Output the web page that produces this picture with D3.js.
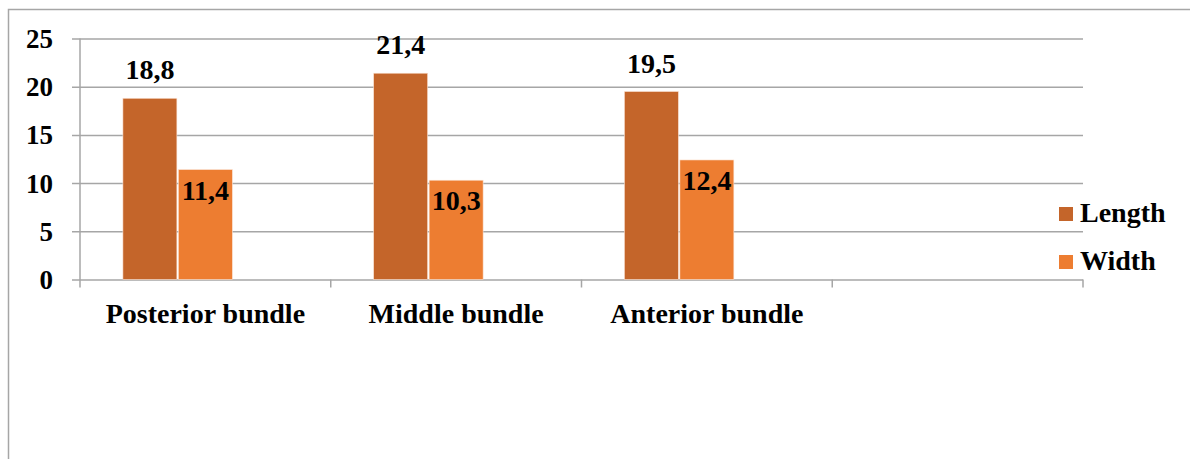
<!DOCTYPE html>
<html>
<head>
<meta charset="utf-8">
<script src="https://cdn.jsdelivr.net/npm/d3@7"></script>
<style>
  body { margin: 0; background: #fff; }
  svg text { font-family: "Liberation Serif", Tinos, "Times New Roman", "DejaVu Serif", serif; font-weight: bold; fill: #000; }
</style>
</head>
<body>
<div id="chart"></div>
<script>
// categories and series (4th category is empty, as in the source chart)
var categories = ["Posterior bundle", "Middle bundle", "Anterior bundle", ""];
var seriesNames = ["Length", "Width"];
var lengthValues = [18.8, 21.4, 19.5];
var widthValues = [11.4, 10.3, 12.4];
var yTicks = [0, 5, 10, 15, 20, 25];

var colors = { Length: "#c4652a", Width: "#ed7d31" };

var W = 1190, H = 459;
var plotLeft = 80, plotRight = 1083, plotTop = 38.5, plotBottom = 279.5;

var svg = d3.select("#chart").append("svg")
    .attr("width", W).attr("height", H);

// outer chart border (runs off the page right / bottom)
svg.append("rect")
    .attr("x", 8.5).attr("y", 9.5)
    .attr("width", W + 10).attr("height", H + 10)
    .attr("fill", "none").attr("stroke", "#a6a6a6").attr("stroke-width", 1.5);

var y = d3.scaleLinear().domain([0, 25]).range([plotBottom, plotTop]);

var x0 = d3.scaleBand().domain(categories).range([plotLeft, plotRight]).padding(0);

// 3 slots per group: the third one is an empty spacer like the original
var x1 = d3.scaleBand().domain(seriesNames.concat(["_"]))
    .range([0, x0.bandwidth()]).paddingInner(0).paddingOuter(0.76);

// gridlines + y labels
var yAxis = svg.append("g")
    .attr("transform", "translate(72,0)")
    .call(d3.axisLeft(y).tickValues(yTicks).tickSize(-(plotRight - 72)).tickPadding(19).tickFormat(d3.format("d")));
yAxis.attr("font-family", null);
yAxis.select(".domain").remove();
yAxis.selectAll(".tick line").attr("stroke", "#a6a6a6").attr("stroke-width", 1.5);
yAxis.selectAll(".tick text").style("font-size", "27px").attr("dy", "0.33em");

// vertical axis line
svg.append("line")
    .attr("x1", plotLeft).attr("x2", plotLeft)
    .attr("y1", plotTop).attr("y2", plotBottom + 8)
    .attr("stroke", "#a6a6a6").attr("stroke-width", 1.5);

// category boundary ticks
var bounds = categories.map(function(c) { return x0(c) + x0.bandwidth(); });
svg.selectAll(".xtick").data(bounds).enter().append("line")
    .attr("class", "xtick")
    .attr("x1", function(d) { return d; }).attr("x2", function(d) { return d; })
    .attr("y1", plotBottom).attr("y2", plotBottom + 8)
    .attr("stroke", "#a6a6a6").attr("stroke-width", 1.5);

// category labels
var xAxis = svg.append("g")
    .attr("transform", "translate(0," + plotBottom + ")")
    .call(d3.axisBottom(x0).tickSize(0));
xAxis.attr("font-family", null);
xAxis.select(".domain").remove();
xAxis.selectAll(".tick text").style("font-size", "28px").attr("y", 43).attr("dy", 0);

// bars
var rows = categories.slice(0, 3).map(function(c, i) {
    return { cat: c, values: [
        { key: "Length", value: lengthValues[i] },
        { key: "Width", value: widthValues[i] }
    ] };
});

var comma = d3.formatLocale({ decimal: ",", thousands: " ", grouping: [3], currency: ["", ""] }).format(".1f");

var groups = svg.selectAll(".grp").data(rows).enter().append("g")
    .attr("class", "grp")
    .attr("transform", function(d) { return "translate(" + x0(d.cat) + ",0)"; });

groups.selectAll("rect").data(function(d) { return d.values; }).enter().append("rect")
    .attr("x", function(d) { return x1(d.key) + 0.75; })
    .attr("width", x1.bandwidth() - 1.5)
    .attr("y", function(d) { return y(d.value); })
    .attr("height", function(d) { return plotBottom - y(d.value); })
    .attr("fill", function(d) { return colors[d.key]; })
    .attr("stroke", "#fbe3d4").attr("stroke-width", 0.6);

// data labels
groups.selectAll(".lbl").data(function(d) { return d.values; }).enter().append("text")
    .attr("class", "lbl")
    .attr("x", function(d) { return x1(d.key) + x1.bandwidth() / 2; })
    .attr("y", function(d) { return d.key === "Length" ? y(d.value) - 19 : y(d.value) + 30; })
    .attr("text-anchor", "middle")
    .style("font-size", "28px")
    .text(function(d) { return comma(d.value); });

// legend
var legend = svg.selectAll(".leg").data(seriesNames).enter().append("g")
    .attr("class", "leg")
    .attr("transform", function(d, i) { return "translate(1059," + (207 + i * 48) + ")"; });
legend.append("rect").attr("width", 14).attr("height", 14)
    .attr("fill", function(d) { return colors[d]; });
legend.append("text").attr("x", 21).attr("y", 15)
    .style("font-size", "28px")
    .text(function(d) { return d; });
</script>
</body>
</html>
